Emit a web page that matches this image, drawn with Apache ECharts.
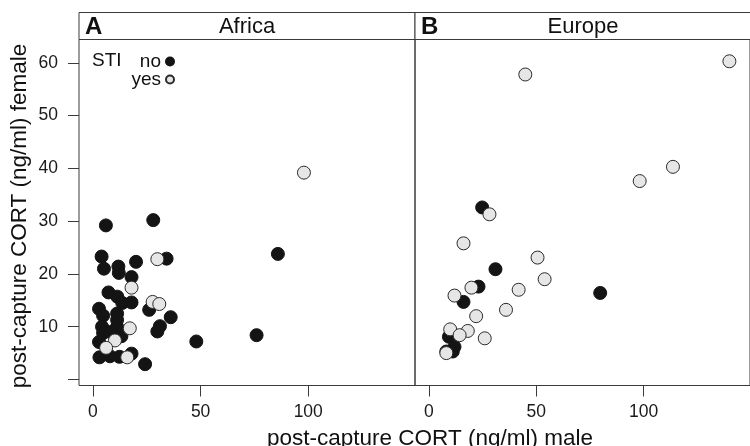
<!DOCTYPE html>
<html>
<head>
<meta charset="utf-8">
<script src="https://cdn.jsdelivr.net/npm/echarts@6/dist/echarts.min.js"></script>
<style>
  html, body { margin: 0; padding: 0; background: #fff; }
  #chart-cort { width: 750px; height: 446px; }
</style>
</head>
<body>
<div id="chart-cort"></div>
<script>
// 面板
const panelNames = ['Africa', 'Europe'];
const panelLetters = ['A', 'B'];
const stiGroups = ['no', 'yes'];
// 刻度
const xTicks = [0, 50, 100];
const yTicks = [0, 10, 20, 30, 40, 50, 60];
const yLabels = [10, 20, 30, 40, 50, 60];

// [male, female] post-capture CORT (ng/ml)
const africaNo = [
  [6.0, 29.2], [28.0, 30.2], [4.0, 23.3], [5.1, 21.0], [11.8, 21.4], [12.0, 20.2],
  [20.0, 22.3], [34.2, 22.9], [17.9, 19.4], [7.2, 16.5], [11.3, 15.7], [13.6, 14.5],
  [17.9, 14.6], [26.1, 13.2], [36.1, 11.8], [31.1, 10.1], [29.9, 9.1], [2.8, 13.4],
  [4.7, 12.1], [11.2, 12.5], [11.2, 11.3], [11.2, 10.0], [4.2, 10.0], [4.7, 8.8],
  [8.2, 9.0], [13.2, 8.2], [2.8, 7.1], [3.0, 4.2], [7.9, 4.4], [12.3, 4.3],
  [17.9, 4.9], [24.2, 2.9], [48.0, 7.2], [76.0, 8.4], [85.9, 23.8]
];
const africaYes = [
  [29.9, 22.8], [17.9, 17.4], [27.7, 14.7], [30.8, 14.3], [17.1, 9.7],
  [10.2, 7.4], [6.1, 6.0], [15.9, 4.2], [98.0, 39.2]
];
const europeNo = [
  [24.8, 32.6], [31.0, 20.9], [23.1, 17.6], [16.1, 14.7], [9.3, 8.1],
  [11.9, 6.2], [8.1, 5.3], [11.1, 5.3], [79.8, 16.4]
];
const europeYes = [
  [28.2, 31.3], [16.1, 25.8], [50.6, 23.1], [53.9, 19.0], [19.8, 17.4], [41.8, 17.0],
  [11.9, 15.9], [35.9, 13.2], [22.0, 12.0], [9.9, 9.5], [18.1, 9.2], [14.3, 8.4],
  [26.0, 7.8], [8.1, 5.0], [44.9, 57.8], [140.0, 60.3], [113.7, 40.3], [98.2, 37.6]
];

const FONT = '"Liberation Sans", Arial, sans-serif';
const FRAME = '#3a3a3a';
const panelLeft = [79, 415];
const panelWidth = 336;

const chart = echarts.init(document.getElementById('chart-cort'));

// 坐标轴
const xAxes = panelLeft.map((_, i) => ({
  gridIndex: i,
  type: 'value',
  min: -6.5,
  max: 149.6,
  axisLine: { show: false, onZero: false },
  splitLine: { show: false },
  axisTick: { show: true, inside: false, length: 11, customValues: xTicks, lineStyle: { color: FRAME } },
  axisLabel: { customValues: xTicks, margin: 18, fontSize: 17.5, color: '#1a1a1a', fontFamily: FONT }
}));
const yAxes = panelLeft.map((_, i) => ({
  gridIndex: i,
  type: 'value',
  min: -1.14,
  max: 64.43,
  axisLine: { show: false, onZero: false },
  splitLine: { show: false },
  axisTick: { show: i === 0, inside: false, length: 11, customValues: yTicks, lineStyle: { color: FRAME } },
  axisLabel: { show: i === 0, customValues: yLabels, margin: 21, fontSize: 17.5, color: '#1a1a1a', fontFamily: FONT }
}));

function makeSeries(name, idx, data, fill) {
  return {
    name: name,
    type: 'scatter',
    xAxisIndex: idx,
    yAxisIndex: idx,
    data: data,
    symbolSize: 13,
    itemStyle: { color: fill, borderColor: name === 'yes' ? '#2b2b2b' : fill, borderWidth: 1, opacity: 1 },
    emphasis: { disabled: true }
  };
}

// 面板标题条
const strips = [];
panelLeft.forEach((left, i) => {
  strips.push({
    type: 'rect', shape: { x: left, y: 12.5, width: panelWidth, height: 27 },
    style: { fill: '#fff', stroke: FRAME, lineWidth: 1 }
  });
  strips.push({
    type: 'text', x: left + 6, y: 27,
    style: { text: panelLetters[i], font: 'bold 24px ' + FONT, fill: '#111', textVerticalAlign: 'middle' }
  });
  strips.push({
    type: 'text', x: left + panelWidth / 2, y: 27,
    style: { text: panelNames[i], font: '22px ' + FONT, fill: '#111', textAlign: 'center', textVerticalAlign: 'middle' }
  });
});

const option = {
  animation: false,
  backgroundColor: '#fff',
  grid: panelLeft.map(left => ({
    left: left, width: panelWidth, top: 39.5, bottom: 60.5,
    show: true, borderColor: FRAME, borderWidth: 1, backgroundColor: 'transparent'
  })),
  xAxis: xAxes,
  yAxis: yAxes,
  legend: {
    data: stiGroups,
    orient: 'vertical',
    align: 'right',
    right: 570,
    top: 47,
    itemWidth: 8,
    itemHeight: 8,
    itemGap: -1,
    selectedMode: false,
    textStyle: { fontSize: 19, color: '#111', fontFamily: FONT }
  },
  series: [
    makeSeries('no', 0, africaNo, '#141414'),
    makeSeries('yes', 0, africaYes, '#e6e6e6'),
    makeSeries('no', 1, europeNo, '#141414'),
    makeSeries('yes', 1, europeYes, '#e6e6e6')
  ],
  graphic: strips.concat([
    {
      type: 'text', x: 92, y: 61,
      style: { text: 'STI', font: '19px ' + FONT, fill: '#111', textVerticalAlign: 'middle' }
    },
    {
      type: 'text', x: 430, y: 439,
      style: { text: 'post-capture CORT (ng/ml) male', font: '22.5px ' + FONT, fill: '#111', textAlign: 'center', textVerticalAlign: 'middle' }
    },
    {
      type: 'text', x: 20, y: 216, rotation: Math.PI / 2,
      style: { text: 'post-capture CORT (ng/ml) female', font: '22.5px ' + FONT, fill: '#111', textAlign: 'center', textVerticalAlign: 'middle' }
    }
  ])
};

chart.setOption(option);
</script>
</body>
</html>
